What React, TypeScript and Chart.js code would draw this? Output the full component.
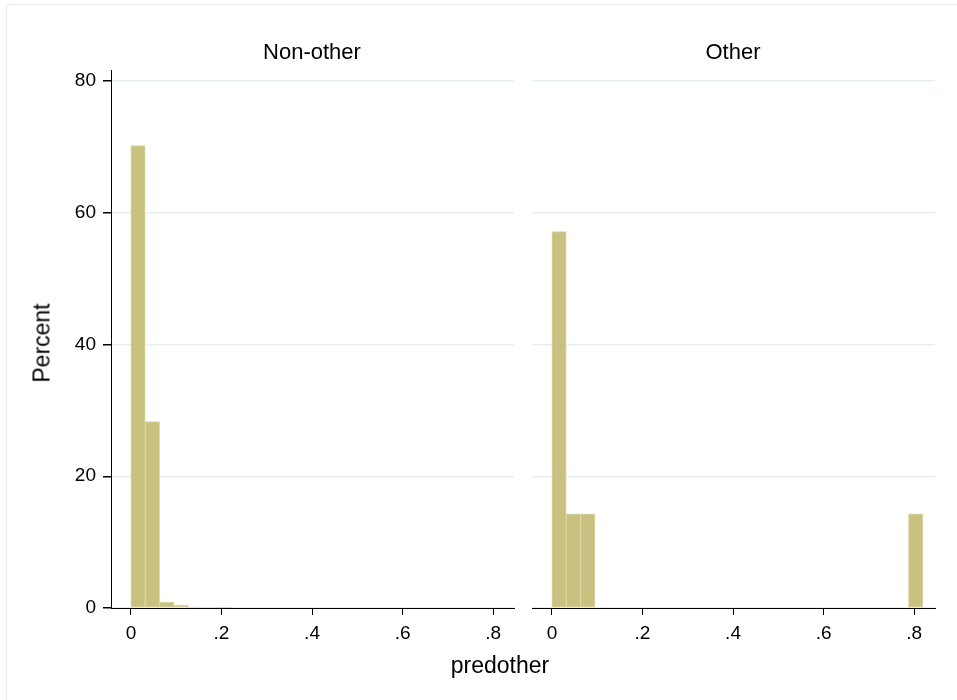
import React, { useEffect, useRef } from 'react';
import { Chart, registerables } from 'chart.js';

Chart.register(...registerables);

// ---- data ----
const panelTitles = ['Non-other', 'Other'];
const xTickValues = [0, 0.2, 0.4, 0.6, 0.8];
const yTickValues = [0, 20, 40, 60, 80];
const nonOtherBins = [0.0157, 0.0475, 0.0793, 0.1111, 0.1429, 0.1747, 0.2065];
const nonOtherPercent = [70.2, 28.3, 0.9, 0.45, 0.15, 0.12, 0.1];
const otherBins = [0.0157, 0.0475, 0.0793, 0.8033];
const otherPercent = [57.14, 14.29, 14.29, 14.29];
const xTitle = 'predother';
const yTitle = 'Percent';

const FONT = '"Liberation Sans", Arial, sans-serif';
const BAR_FILL = 'rgb(201,193,127)';
const BAR_EDGE = 'rgb(219,214,165)';
const GRID = 'rgb(232,239,241)';

function fmtX(v: number): string {
  if (v === 0) return '0';
  return String(Math.round(v * 10) / 10).replace(/^0\./, '.');
}

function buildChart(canvas: HTMLCanvasElement, bins: number[], values: number[], showY: boolean, yWidth: number, padRight: number) {
  return new Chart(canvas, {
    type: 'bar',
    data: {
      datasets: [
        {
          data: bins.map((x, i) => ({ x, y: values[i] })),
          backgroundColor: BAR_FILL,
          borderColor: BAR_EDGE,
          borderWidth: 1,
          borderSkipped: false,
          barPercentage: 1,
          categoryPercentage: 1,
        },
      ],
    },
    options: {
      animation: false,
      responsive: false,
      maintainAspectRatio: false,
      events: [],
      layout: { padding: { top: 70, right: padRight, left: 0, bottom: 0 } },
      plugins: { legend: { display: false }, tooltip: { enabled: false }, title: { display: false } },
      scales: {
        x: {
          type: 'linear',
          min: -0.044,
          max: 0.846,
          offset: false,
          afterBuildTicks: (s: any) => {
            s.ticks = xTickValues.map((v) => ({ value: v }));
          },
          afterFit: (s: any) => {
            s.height = 92;
          },
          ticks: {
            callback: (v: any) => fmtX(Number(v)),
            font: { family: FONT, size: 19 },
            color: '#000',
            padding: 7,
            maxRotation: 0,
            autoSkip: false,
          },
          grid: { offset: false, drawOnChartArea: false, drawTicks: true, tickLength: 7, color: '#000', lineWidth: 1 },
          border: { display: true, color: '#000', width: 1 },
        } as any,
        y: {
          type: 'linear',
          min: 0,
          max: 81.67,
          afterBuildTicks: (s: any) => {
            s.ticks = yTickValues.map((v) => ({ value: v }));
          },
          afterFit: (s: any) => {
            s.width = yWidth;
          },
          ticks: {
            display: showY,
            font: { family: FONT, size: 19 },
            color: '#000',
            padding: 7,
          },
          grid: { color: GRID, tickColor: '#000', tickLength: 8, drawTicks: showY, lineWidth: 1.5 },
          border: { display: showY, color: '#000', width: 1 },
        } as any,
      },
    },
  });
}

function Panel(props: { bins: number[]; values: number[]; showY: boolean; yWidth: number; padRight: number; left: number; width: number }) {
  const ref = useRef<HTMLCanvasElement>(null);
  useEffect(() => {
    if (!ref.current) return;
    const c = buildChart(ref.current, props.bins, props.values, props.showY, props.yWidth, props.padRight);
    return () => c.destroy();
  }, []);
  return (
    <div style={{ position: 'absolute', left: props.left, top: 0, width: props.width, height: 700 }}>
      <canvas ref={ref} width={props.width} height={700} style={{ width: props.width, height: 700, display: 'block' }} />
    </div>
  );
}

export default function App() {
  const textBase: React.CSSProperties = { position: 'absolute', fontFamily: FONT, color: '#000', whiteSpace: 'nowrap', lineHeight: 1 };
  return (
    <div style={{ position: 'fixed', left: 0, top: 0, width: 957, height: 700, background: '#fff', overflow: 'hidden' }}>
      <div style={{ position: 'absolute', left: 6, top: 4, width: 980, height: 720, border: `1.5px solid ${GRID}` }} />
      <Panel bins={nonOtherBins} values={nonOtherPercent} showY={true} yWidth={111} padRight={6} left={0} width={520} />
      <Panel bins={otherBins} values={otherPercent} showY={false} yWidth={12} padRight={22} left={520} width={437} />
      <div style={{ ...textBase, left: 312, top: 52, fontSize: 22, transform: 'translate(-50%, -50%)' }}>{panelTitles[0]}</div>
      <div style={{ ...textBase, left: 733, top: 52, fontSize: 22, transform: 'translate(-50%, -50%)' }}>{panelTitles[1]}</div>
      <div style={{ ...textBase, left: 500, top: 665, fontSize: 23, transform: 'translate(-50%, -50%)' }}>{xTitle}</div>
      <div style={{ ...textBase, left: 42, top: 343, fontSize: 23, transform: 'translate(-50%, -50%) rotate(-90deg)' }}>{yTitle}</div>
    </div>
  );
}
